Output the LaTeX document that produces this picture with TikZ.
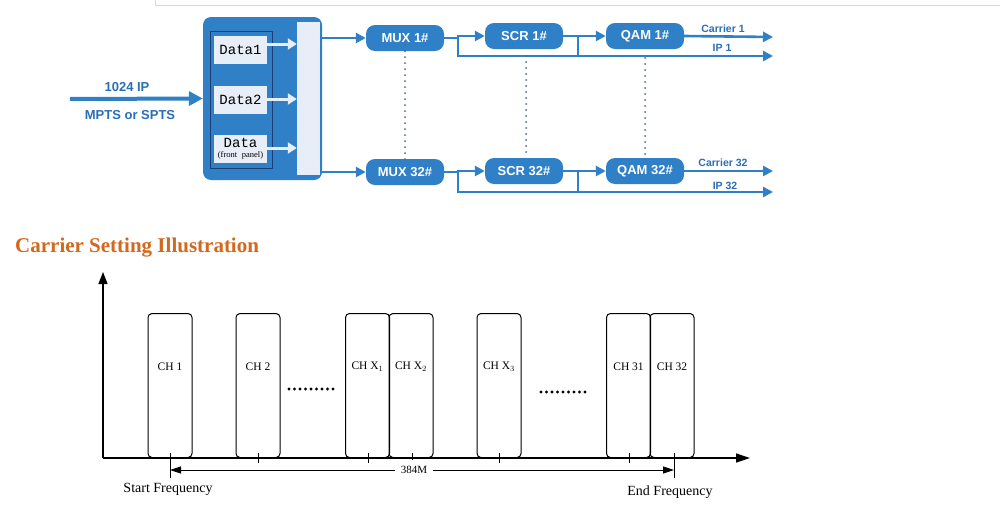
\documentclass[tikz,border=0pt]{standalone}
\usepackage{fontspec}
\setmainfont{Liberation Serif}
\newfontfamily\sansf{Liberation Sans}
\newfontfamily\monof{Liberation Mono}
\usetikzlibrary{arrows.meta}
\definecolor{bl}{HTML}{2F80C6}
\definecolor{bt}{HTML}{2A6FB4}
\definecolor{lb}{HTML}{E8EEF8}
\definecolor{dk}{HTML}{1B3F73}
\definecolor{og}{HTML}{D2691E}
\begin{document}
\begin{tikzpicture}[x=1pt,y=-1pt,
 blk/.style={fill=bl,draw=none,rounded corners=9pt,minimum width=78pt,minimum height=26pt,text=white,font=\sansf\bfseries\fontsize{13}{13}\selectfont},
 bline/.style={draw=bl,line width=2.6pt},
 barr/.style={bline,-{Triangle[length=10pt,width=10pt]}},
 lab/.style={text=bt,font=\sansf\bfseries\fontsize{10.5}{10.5}\selectfont},
 dat/.style={fill=lb,draw=none,minimum width=53pt,minimum height=28pt,inner sep=0pt,font=\monof\fontsize{14}{14}\selectfont},
 warr/.style={draw=lb,line width=3pt,-{Triangle[length=9pt,width=11pt]}},
 dots/.style={draw=dk!80,line width=2pt,dash pattern=on 0pt off 6pt,line cap=round},
 ch/.style={draw,line width=1pt,rounded corners=4pt,minimum width=44pt,minimum height=144pt,inner sep=0pt,anchor=south},
 cht/.style={font=\fontsize{11.5}{11.5}\selectfont},
 tick/.style={line width=0.8pt}]
\useasboundingbox (0,0) rectangle (1000,514);
\fill[white] (0,0) rectangle (1000,514);
\draw[gray!30,line width=1pt] (155,5) -- (1000,5);
\draw[gray!30,line width=1pt] (155,0) -- (155,5);
% input
\coordinate (in0) at (70,99);
\node[text=bt,font=\sansf\bfseries\fontsize{13}{13}\selectfont] (t1) at (127,87) {1024 IP};
\node[text=bt,font=\sansf\bfseries\fontsize{13}{13}\selectfont] (t2) at (130,115) {MPTS or SPTS};
% big box
\node[fill=bl,rounded corners=8pt,minimum width=119pt,minimum height=163pt,inner sep=0pt] (big) at (262.5,98.5) {};
\draw[draw=bl,line width=4pt,-{Triangle[length=14pt,width=14pt]}] (in0) -- (big.west);
\node[draw=dk,line width=1pt,minimum width=62pt,minimum height=137pt,inner sep=0pt] (inner) at (241,99.5) {};
\node[dat] (d1) at (240.5,50) {Data1};
\node[dat] (d2) at (240.5,100) {Data2};
\node[dat,text width=53pt,align=center] (d3) at (240.5,148.5) {Data\\[-4pt]{\rmfamily\fontsize{8.5}{8.5}\selectfont(front panel)}};
\node[fill=lb,minimum width=23pt,minimum height=153pt,inner sep=0pt] (bar) at (308.5,98.5) {};
\draw[warr] (d1.east|-0,44) -- (bar.west|-0,44);
\draw[warr] (d2.east|-0,99) -- (bar.west|-0,99);
\draw[warr] (d3.east|-0,148) -- (bar.west|-0,148);
% rows
\node[blk] (m1) at (405,38) {MUX 1\#};
\node[blk] (s1) at (524,36) {SCR 1\#};
\node[blk] (q1) at (645,36) {QAM 1\#};
\node[blk] (m2) at (405,172) {MUX 32\#};
\node[blk] (s2) at (524,171) {SCR 32\#};
\node[blk] (q2) at (645,171) {QAM 32\#};
\draw[barr] (bar.east|-m1) -- (m1.west);
\draw[barr] (bar.east|-m2) -- (m2.west);
\coordinate (c1) at (773,37); \coordinate (i1) at (773,56);
\coordinate (c2) at (773,171); \coordinate (i2) at (773,192);
\draw[barr] (m1.east) -| (458,36) -- (s1.west);
\draw[barr] (458,36) |- (i1);
\draw[barr] (s1.east) -- (q1.west);
\draw[bline] (578,36) -- (578,56);
\draw[barr] (q1.east) -- (c1);
\draw[barr] (m2.east) -| (458,171) -- (s2.west);
\draw[barr] (458,171) |- (i2);
\draw[barr] (s2.east) -- (q2.west);
\draw[bline] (578,171) -- (578,192);
\draw[barr] (q2.east) -- (c2);
\node[lab] (l1) at (723,29) {Carrier 1};
\node[lab] (l2) at (722,48) {IP 1};
\node[lab] (l3) at (723,163) {Carrier 32};
\node[lab] (l4) at (725,186) {IP 32};
\draw[dots] ([yshift=6pt]m1.south) -- ([yshift=-4pt]m2.north);
\draw[dots] (526,56) -- (526,153);
\draw[dots] (645,58) -- (645,155);
% title
\node[anchor=west,text=og,font=\bfseries\fontsize{21}{21}\selectfont,inner sep=0pt] (title) at (15,248) {Carrier Setting Illustration};
% chart
\coordinate (o) at (103,458);
\coordinate (ya) at (103,272);
\coordinate (xa) at (750,458);
\draw[line width=1.3pt,-{Triangle[length=12pt,width=9pt]}] (o) -- (ya);
\draw[line width=1.3pt,-{Triangle[length=14pt,width=9pt]}] (o) -- (xa);
\foreach \n/\x/\t in {a/170/CH 1,b/258/CH 2,c/367.5/CH X$_1$,d/411/CH X$_2$,e/499/CH X$_3$,f/628.5/CH 31,g/672/CH 32}{
 \node[ch] (ch\n) at (\x,458) {};
 \node[cht] (t\n) at (\x,367) {\t};
}
\foreach \x in {258,368,412,499,629}{\draw[tick] (\x,453) -- (\x,463);}
\coordinate (sf) at (170,470); \coordinate (ef) at (674,470);
\draw[tick] (170,453) -- (170,478);
\draw[tick] (674,453) -- (674,478);
\node[fill=white,font=\fontsize{11}{11}\selectfont,inner sep=6pt] (bw) at (414,470) {384M};
\draw[line width=0.8pt,-{Triangle[length=11pt,width=7pt]}] (bw.west) -- (sf);
\draw[line width=0.8pt,-{Triangle[length=11pt,width=7pt]}] (bw.east) -- (ef);
\foreach \i in {0,...,8}{
 \fill (289+\i*5.5,389) circle (1.6pt);
 \fill (541+\i*5.5,392) circle (1.6pt);
}
\node[font=\fontsize{14}{14}\selectfont] (sfl) at (168,489) {Start Frequency};
\node[font=\fontsize{14}{14}\selectfont] (efl) at (670,492) {End Frequency};
\end{tikzpicture}
\end{document}
